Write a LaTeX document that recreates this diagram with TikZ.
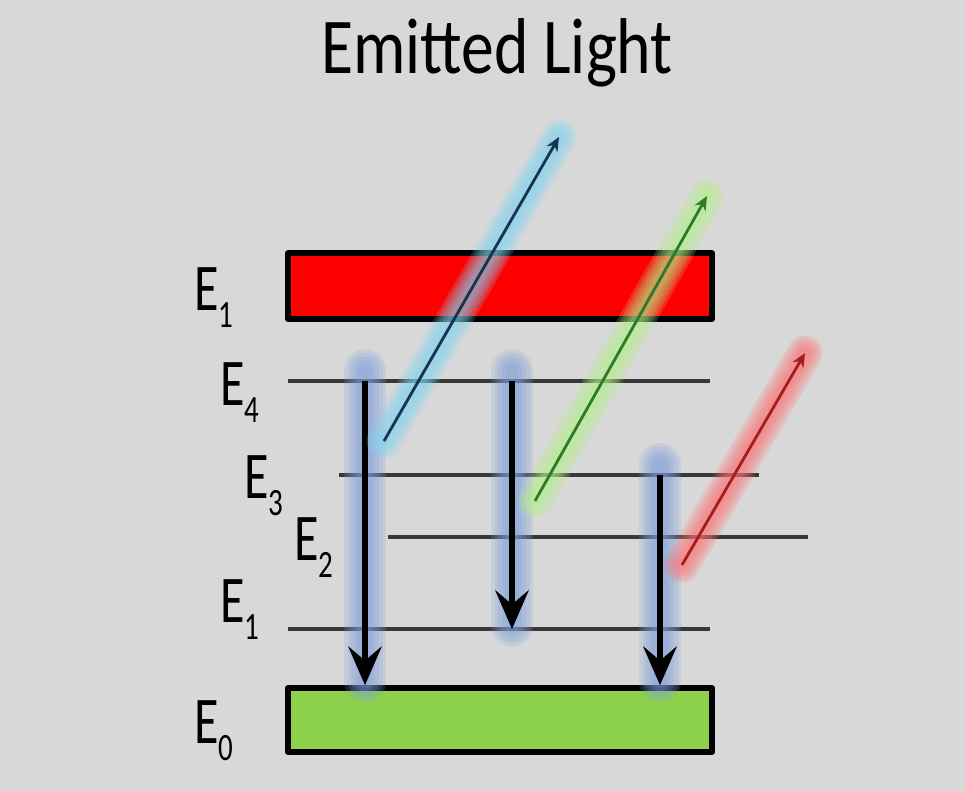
\documentclass[tikz,border=0pt]{standalone}
\usepackage{fontspec}
\setmainfont{Carlito}
\usetikzlibrary{arrows.meta}
\definecolor{bggray}{HTML}{D8D8D8}
\definecolor{levgray}{HTML}{383838}
\definecolor{bandred}{HTML}{FF0000}
\definecolor{bandgreen}{HTML}{8ED14C}
\definecolor{haloblue}{HTML}{7E9FDC}
\definecolor{halocyan}{HTML}{7FD4F2}
\definecolor{halogreen}{HTML}{B4F08A}
\definecolor{halored}{HTML}{FF7070}
\definecolor{raycyan}{HTML}{17344F}
\definecolor{raygreen}{HTML}{2F7A2A}
\definecolor{rayred}{HTML}{A51E1E}
% soft glow behind a line: colour, from, to, widest width (pt)
\newcommand\halo[4]{%
  \foreach \k [evaluate=\k as \lw using #4*(1-0.17*\k)] in {0,...,4}
    \draw[#1, line width=\lw pt, opacity=0.2, line cap=round] (#2) -- (#3);}
\newcommand\En[1]{E\raisebox{-10pt}{\fontsize{22}{22}\selectfont #1}}
\begin{document}
\begin{tikzpicture}[x=0.02cm, y=-0.02cm, line join=round,
  level/.style={draw=levgray, line width=2.4pt},
  bar/.style={draw=black, line width=3.2pt, rectangle, inner sep=0pt,
    minimum width=8.48cm, minimum height=1.32cm},
  drop/.style={line width=3pt, -{Stealth[length=22pt, width=19pt, inset=8pt]}},
  ray/.style={line width=1.6pt, -{Stealth[length=8pt, width=7pt]}},
  lbl/.style={font=\fontsize{38}{40}\selectfont, xscale=0.75, anchor=base west, inner sep=0pt},
  title/.style={font=\fontsize{45}{48}\selectfont, xscale=0.83, anchor=base, inner sep=0pt}]
	\fill[bggray] (0,0) rectangle (965,791);
	\node[title] (title) at (497,73) {Emitted Light};
	% bands
	\node[bar, fill=bandred] (upper) at (500,286) {};
	\node[bar, fill=bandgreen, minimum height=1.28cm] (ground) at (500,720) {};
	% levels
	\coordinate (l4a) at (288,381); \coordinate (l4b) at (710,381);
	\coordinate (l3a) at (339,475); \coordinate (l3b) at (759,475);
	\coordinate (l2a) at (388,537); \coordinate (l2b) at (808,537);
	\coordinate (l1a) at (288,629); \coordinate (l1b) at (710,629);
	\foreach \i in {4,3,2,1} \draw[level] (l\i a) -- (l\i b);
	% labels
	\node[lbl] (labu) at (194,310) {\En{1}};
	\node[lbl] (lab4) at (220,405) {\En{4}};
	\node[lbl] (lab3) at (244,498) {\En{3}};
	\node[lbl] (lab2) at (294,560) {\En{2}};
	\node[lbl] (lab1) at (220,622) {\En{1}};
	\node[lbl] (lab0) at (194,743) {\En{0}};
	% transitions down
	\coordinate (d1s) at (365,381); \coordinate (d1e) at (d1s |- ground.north);
	\coordinate (d2s) at (512,381); \coordinate (d2e) at (512,629);
	\coordinate (d3s) at (660,475); \coordinate (d3e) at (d3s |- ground.north);
	\foreach \i in {1,2,3} {
		\halo{haloblue}{[yshift=6pt]d\i s}{[yshift=2pt]d\i e}{24}
		\draw[drop] (d\i s) -- (d\i e);
	}
	% emitted light
	\coordinate (c1s) at (384,441); \coordinate (c1e) at (559,137);
	\coordinate (c2s) at (535,501); \coordinate (c2e) at (707,196);
	\coordinate (c3s) at (682,565); \coordinate (c3e) at (805,353);
	\foreach \i/\c/\h in {1/raycyan/halocyan, 2/raygreen/halogreen, 3/rayred/halored} {
		\halo{\h}{c\i s}{c\i e}{20}
		\draw[ray, \c] (c\i s) -- (c\i e);
	}
\end{tikzpicture}
\end{document}
